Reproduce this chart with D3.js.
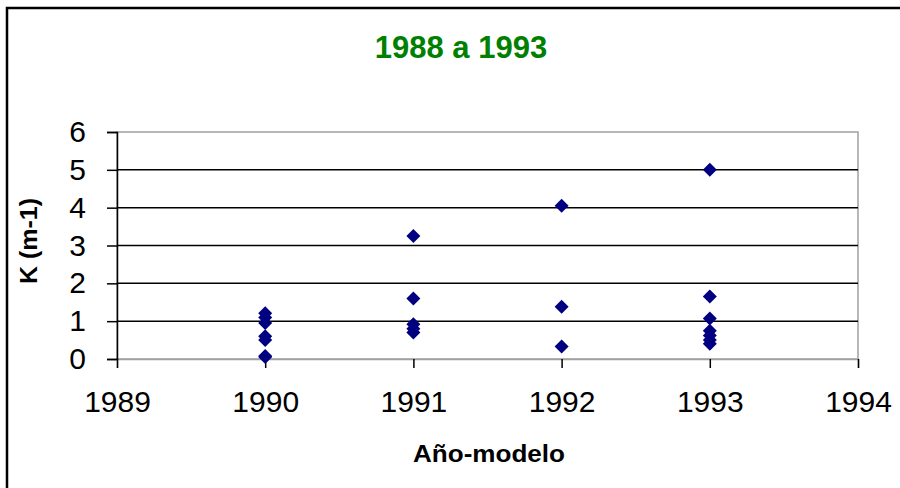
<!DOCTYPE html>
<html>
<head>
<meta charset="utf-8">
<script src="https://cdn.jsdelivr.net/npm/d3@7"></script>
<style>
    body { margin: 0; background: #fff; }
    svg { display: block; font-family: Arial, 'Liberation Sans', sans-serif; }
</style>
</head>
<body>
<svg id="chart"></svg>
<script>
// K values per model year
const years1990 = [1.21, 1.1, 0.95, 0.6, 0.5, 0.08, 0.05];
const years1991 = [3.25, 1.6, 0.92, 0.8, 0.7];
const years1992 = [4.05, 1.38, 0.33];
const years1993 = [5.0, 1.65, 1.07, 0.75, 0.62, 0.5, 0.4];
const xTicks = [1989, 1990, 1991, 1992, 1993, 1994];
const yTicks = [0, 1, 2, 3, 4, 5, 6];

const title = '1988 a 1993';
const xTitle = 'Año-modelo';
const yTitle = 'K (m-1)';

const width = 900;
const height = 488;
const margin = {top: 132, right: 42, bottom: 129, left: 117};

const svg = d3.select('#chart')
    .attr('width', width)
    .attr('height', height);

// outer chart frame (cut off at right and bottom)
svg.append('rect')
    .attr('x', 7)
    .attr('y', 8)
    .attr('width', width + 10)
    .attr('height', height + 10)
    .attr('fill', 'none')
    .attr('stroke', '#000')
    .attr('stroke-width', 2.5);

const x = d3.scaleLinear()
    .domain([1989, 1994])
    .range([margin.left, width - margin.right]);

const y = d3.scaleLinear()
    .domain([0, 6])
    .range([height - margin.bottom, margin.top]);

// build points from the per-year arrays
const points = [];
[[1990, years1990], [1991, years1991], [1992, years1992], [1993, years1993]].forEach(([yr, vals]) => {
    vals.forEach(v => points.push({year: yr, k: v}));
});

// plot area border (gray)
svg.append('rect')
    .attr('x', x(1989))
    .attr('y', y(6))
    .attr('width', x(1994) - x(1989))
    .attr('height', y(0) - y(6))
    .attr('fill', 'none')
    .attr('stroke', '#a0a0a0')
    .attr('stroke-width', 1.5);

// gridlines
svg.append('g')
    .attr('class', 'grid')
    .selectAll('line')
    .data(yTicks.filter(d => d > 0 && d < 6))
    .enter()
    .append('line')
    .attr('x1', x(1989))
    .attr('x2', x(1994))
    .attr('y1', d => y(d))
    .attr('y2', d => y(d))
    .attr('stroke', '#000')
    .attr('stroke-width', 1.5);

// x axis
const xAxis = svg.append('g')
    .attr('transform', `translate(0,${y(0)})`)
    .call(d3.axisBottom(x).tickValues(xTicks).tickFormat(d3.format('d')).tickSize(9).tickPadding(23));
xAxis.select('.domain').attr('stroke', '#a0a0a0').attr('stroke-width', 1.5);
xAxis.selectAll('.tick line').attr('stroke', '#000').attr('stroke-width', 1.5);
xAxis.selectAll('text')
    .attr('font-size', 30)
    .attr('font-family', 'Arial, Liberation Sans, sans-serif')
    .attr('fill', '#000');

// y axis
const yAxis = svg.append('g')
    .attr('transform', `translate(${x(1989)},0)`)
    .call(d3.axisLeft(y).tickValues(yTicks).tickFormat(d3.format('d')).tickSize(10).tickPadding(21));
yAxis.select('.domain').attr('stroke', '#000').attr('stroke-width', 1.5);
yAxis.selectAll('.tick line').attr('stroke', '#000').attr('stroke-width', 1.5);
yAxis.selectAll('text')
    .attr('font-size', 30)
    .attr('font-family', 'Arial, Liberation Sans, sans-serif')
    .attr('fill', '#000');

// markers
svg.append('g')
    .attr('class', 'points')
    .selectAll('path')
    .data(points)
    .enter()
    .append('path')
    .attr('transform', d => `translate(${x(d.year)},${y(d.k)})`)
    .attr('d', 'M0,-7L7,0L0,7L-7,0Z')
    .attr('fill', '#000080');

// titles
svg.append('text')
    .attr('x', 461)
    .attr('y', 58)
    .attr('text-anchor', 'middle')
    .attr('font-size', 31)
    .attr('font-weight', 'bold')
    .attr('fill', '#008000')
    .text(title);

svg.append('text')
    .attr('x', 489)
    .attr('y', 462)
    .attr('text-anchor', 'middle')
    .attr('font-size', 23)
    .attr('font-weight', 'bold')
    .attr('fill', '#000')
    .attr('textLength', 152)
    .attr('lengthAdjust', 'spacingAndGlyphs')
    .text(xTitle);

svg.append('text')
    .attr('transform', 'translate(37,241) rotate(-90)')
    .attr('text-anchor', 'middle')
    .attr('font-size', 23)
    .attr('font-weight', 'bold')
    .attr('fill', '#000')
    .attr('textLength', 86)
    .attr('lengthAdjust', 'spacingAndGlyphs')
    .text(yTitle);
</script>
</body>
</html>
